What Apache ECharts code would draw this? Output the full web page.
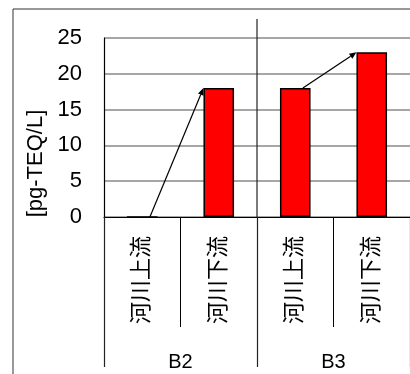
<!DOCTYPE html>
<html>
<head>
<meta charset="utf-8">
<script src="https://cdn.jsdelivr.net/npm/echarts@6/dist/echarts.min.js"></script>
<style>
  html, body { margin: 0; padding: 0; background: #fff; }
  #chart { width: 410px; height: 374px; }
</style>
</head>
<body>
<div id="chart"></div>
<script>
// 数据
var categories = ['河川上流', '河川下流', '河川上流', '河川下流'];
var groups = ['B2', 'B3'];
var values = [0, 18, 18, 23];
var arrowPairs = [[0, 1], [2, 3]];
var yTicks = { min: 0, max: 25, step: 5 };

var FONT = "'Liberation Sans', 'Noto Sans CJK JP', sans-serif";

var myChart = echarts.init(document.getElementById('chart'));

function arrowItem(params, api) {
    var i = api.value(0), j = api.value(1);
    var from = api.coord([i, values[i]]);
    var to = api.coord([j, values[j]]);
    var barW = api.size([1, 0])[0] * 0.4;
    from[0] += barW / 4;
    to[0] -= barW / 2;
    var ang = Math.atan2(to[1] - from[1], to[0] - from[0]);
    var L = 7, W = 3;
    var bx = to[0] - L * Math.cos(ang), by = to[1] - L * Math.sin(ang);
    var px = -Math.sin(ang) * W, py = Math.cos(ang) * W;
    return {
        type: 'group',
        children: [
            { type: 'line', shape: { x1: from[0], y1: from[1], x2: bx, y2: by },
              style: { stroke: '#000', lineWidth: 1.2 } },
            { type: 'polygon', shape: { points: [to, [bx + px, by + py], [bx - px, by - py]] },
              style: { fill: '#000' } }
        ]
    };
}

// 分组分隔线（穿过绘图区）
function groupSepItem(params, api) {
    var g = api.value(0);
    var x = api.coord([g, 0])[0] - api.size([1, 0])[0] / 2;
    var yTop = api.coord([g, yTicks.max])[1] - 19;
    var yBot = api.coord([g, 0])[1];
    return { type: 'line', shape: { x1: x, y1: yTop, x2: x, y2: yBot },
             style: { stroke: '#222', lineWidth: 1.2 } };
}

myChart.setOption({
    animation: false,
    backgroundColor: '#fff',
    textStyle: { fontFamily: FONT },
    graphic: [{
        type: 'rect', silent: true, z: 0,
        shape: { x: 13, y: 9, width: 420, height: 400 },
        style: { fill: 'none', stroke: '#333', lineWidth: 1 }
    }],
    grid: { left: 104, top: 38, right: -4, bottom: 157 },
    xAxis: [{
        type: 'category',
        data: categories,
        axisLine: { show: true, lineStyle: { color: '#000', width: 1.2 } },
        axisTick: { show: true, interval: 0, length: 110, lineStyle: { color: '#000', width: 1 } },
        axisLabel: { interval: 0, rotate: 90, margin: 19, fontSize: 22, color: '#000', fontFamily: FONT },
        splitLine: { show: false }
    }, {
        type: 'category',
        data: groups,
        position: 'bottom',
        offset: 0,
        axisLine: { show: false },
        axisTick: { show: true, interval: 0, length: 150, lineStyle: { color: '#222', width: 1.2 } },
        axisLabel: { interval: 0, margin: 135, fontSize: 20, color: '#000', fontFamily: FONT },
        splitLine: { show: false }
    }],
    yAxis: {
        type: 'value',
        min: yTicks.min,
        max: yTicks.max,
        interval: yTicks.step,
        name: '[pg-TEQ/L]',
        nameLocation: 'middle',
        nameRotate: 90,
        nameGap: 55,
        nameTextStyle: { fontSize: 22, color: '#000', fontFamily: FONT, padding: [0, 72, 0, 0] },
        axisLine: { show: true, lineStyle: { color: '#000', width: 1.2 } },
        axisTick: { show: false },
        axisLabel: { fontSize: 22, margin: 22, color: '#000', fontFamily: FONT },
        splitLine: { show: true, lineStyle: { color: '#888', width: 1.5 } }
    },
    series: [{
        name: 'value',
        type: 'bar',
        data: values,
        barWidth: '40%',
        itemStyle: { color: '#ff0000', borderColor: '#000', borderWidth: 1.5 },
        z: 3
    }, {
        name: 'arrows',
        type: 'custom',
        renderItem: arrowItem,
        data: arrowPairs,
        clip: false,
        z: 5
    }, {
        name: 'groupSep',
        type: 'custom',
        xAxisIndex: 1,
        renderItem: groupSepItem,
        data: [[1]],
        clip: false,
        z: 4
    }]
});
</script>
</body>
</html>
